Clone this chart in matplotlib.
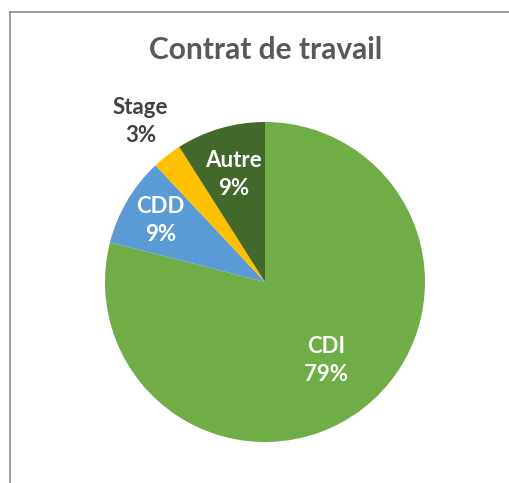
import matplotlib

matplotlib.use("Agg")
import matplotlib.pyplot as plt
import numpy as np
from matplotlib.lines import Line2D

labels = ["CDI", "CDD", "Stage", "Autre"]
values = [79, 9, 3, 9]
colors = ["#70AD47", "#5B9BD5", "#FFC000", "#43682B"]
text_colors = ["white", "white", "#404040", "white"]
label_dist = [0.62, 0.76, 1.27, 0.70]

W, H = 509, 483
fig = plt.figure(figsize=(W / 100, H / 100), dpi=100)
plt.rcParams["font.family"] = ["Lato", "DejaVu Sans"]

# chart-area border (top and left edges visible)
fig.add_artist(Line2D([10 / W, 10 / W], [0, 1 - 12 / H], color="#8c8c8c", lw=1.2))
fig.add_artist(Line2D([10 / W, 1], [1 - 12 / H, 1 - 12 / H], color="#8c8c8c", lw=1.2))

cx, cy, r = 265, 282, 160
ax = fig.add_axes([(cx - r) / W, (H - cy - r) / H, 2 * r / W, 2 * r / H])
wedges, _ = ax.pie(values, colors=colors, startangle=90, counterclock=False,
                   wedgeprops={"linewidth": 0})
ax.set_xlim(-1, 1)
ax.set_ylim(-1, 1)
ax.set_aspect("equal")
ax.axis("off")

for w, lab, v, tc, d in zip(wedges, labels, values, text_colors, label_dist):
    mid = np.deg2rad((w.theta1 + w.theta2) / 2)
    ax.text(d * np.cos(mid), d * np.sin(mid), f"{lab}\n{v}%", ha="center",
            va="center", color=tc, fontsize=16, fontweight="bold",
            linespacing=1.4)

fig.text(266 / W, 1 - 50 / H, "Contrat de travail", ha="center", va="center",
         fontsize=21.5, fontweight="bold", color="#595959")

fig.savefig("out.png", dpi=100)
